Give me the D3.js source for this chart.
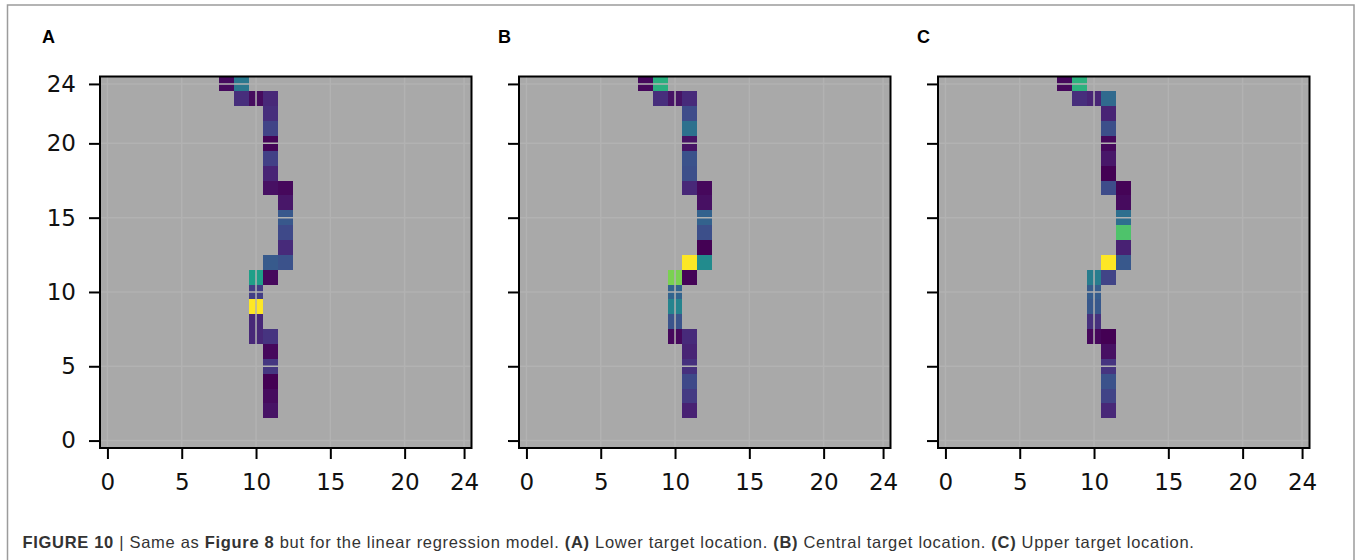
<!DOCTYPE html>
<html>
<head>
<meta charset="utf-8">
<script src="https://cdn.jsdelivr.net/npm/d3@7"></script>
<style>
  body { margin: 0; background: #ffffff; }
  svg { display: block; }
</style>
</head>
<body>
<div id="mainCanvas"></div>
<script>
// grid is 25 x 25, origin lower left; cells listed as [col, row, value 0..1]
var panelLabels = ["A", "B", "C"];
var xTicks = [0, 5, 10, 15, 20, 24];
var yTicks = [0, 5, 10, 15, 20, 24];

var cellsA = [
  [8,24,0.03],[9,24,0.40],
  [9,23,0.13],[10,23,0.03],[11,23,0.11],
  [11,22,0.13],[11,21,0.20],[11,20,0.01],[11,19,0.19],[11,18,0.10],
  [11,17,0.04],[12,17,0.02],
  [12,16,0.06],[12,15,0.27],[12,14,0.22],[12,13,0.12],
  [11,12,0.28],[12,12,0.25],
  [10,11,0.56],[11,11,0.02],
  [10,10,0.18],[10,9,1.00],[10,8,0.11],
  [10,7,0.11],[11,7,0.15],
  [11,6,0.02],[11,5,0.16],[11,4,0.00],[11,3,0.03],[11,2,0.05]
];
var cellsB = [
  [8,24,0.02],[9,24,0.63],
  [9,23,0.13],[10,23,0.05],[11,23,0.12],
  [11,22,0.23],[11,21,0.37],[11,20,0.05],[11,19,0.25],[11,18,0.24],
  [11,17,0.11],[12,17,0.02],
  [12,16,0.04],[12,15,0.31],[12,14,0.24],[12,13,0.00],
  [11,12,1.00],[12,12,0.48],
  [10,11,0.80],[11,11,0.01],
  [10,10,0.32],[10,9,0.45],[10,8,0.26],
  [10,7,0.02],[11,7,0.12],
  [11,6,0.10],[11,5,0.14],[11,4,0.22],[11,3,0.17],[11,2,0.09]
];
var cellsC = [
  [8,24,0.02],[9,24,0.64],
  [9,23,0.13],[10,23,0.10],[11,23,0.34],
  [11,22,0.10],[11,21,0.24],[11,20,0.02],[11,19,0.06],[11,18,0.00],
  [11,17,0.23],[12,17,0.01],
  [12,16,0.03],[12,15,0.36],[12,14,0.72],[12,13,0.09],
  [11,12,1.00],[12,12,0.27],
  [10,11,0.42],[11,11,0.20],
  [10,10,0.29],[10,9,0.27],[10,8,0.14],
  [10,7,0.02],[11,7,0.00],
  [11,6,0.04],[11,5,0.15],[11,4,0.25],[11,3,0.20],[11,2,0.11]
];
var panels = [cellsA, cellsB, cellsC];

var W = 1358, H = 560;
var panelLeft = [100, 519, 938];
var labelLeft = [42, 498, 917];
var panelW = 371.5;
var plotTop = 76.5, plotBottom = 448;

var svg = d3.select("#mainCanvas").append("svg")
        .attr("width", W)
        .attr("height", H);

// light frame around the figure (open at the bottom)
svg.append("path")
        .attr("d", "M7.5," + H + "V5H1354V" + H)
        .style("fill", "none")
        .style("stroke", "#9c9c9c")
        .style("stroke-width", 1.5);

var y = d3.scaleLinear().domain([-0.5, 24.5]).range([plotBottom, plotTop]);

function drawPanel(i){
    var left = panelLeft[i];
    var x = d3.scaleLinear().domain([-0.5, 24.5]).range([left, left + panelW]);
    var g = svg.append("g").attr("id", "panel-" + panelLabels[i]);

    g.append("rect")
        .attr("x", left)
        .attr("y", plotTop)
        .attr("width", panelW)
        .attr("height", plotBottom - plotTop)
        .style("fill", "#a9a9a9");

    var cw = x(0.5) - x(-0.5);
    var ch = y(-0.5) - y(0.5);
    g.selectAll("rect.cell")
        .data(panels[i])
        .enter().append("rect")
        .attr("class", "cell")
        .attr("x", function(d){ return x(d[0] - 0.5); })
        .attr("y", function(d){ return y(d[1] + 0.5); })
        .attr("width", cw)
        .attr("height", ch)
        .attr("shape-rendering", "crispEdges")
        .style("fill", function(d){ return d3.interpolateViridis(d[2]); });

    // grid on top of the image
    g.selectAll("line.vgrid")
        .data(xTicks)
        .enter().append("line")
        .attr("x1", function(d){ return x(d); })
        .attr("x2", function(d){ return x(d); })
        .attr("y1", plotTop)
        .attr("y2", plotBottom)
        .style("stroke", "#b2b2b2")
        .style("stroke-width", 1.5);
    g.selectAll("line.hgrid")
        .data(yTicks)
        .enter().append("line")
        .attr("x1", left)
        .attr("x2", left + panelW)
        .attr("y1", function(d){ return y(d); })
        .attr("y2", function(d){ return y(d); })
        .style("stroke", "#b2b2b2")
        .style("stroke-width", 1.5);

    var xAxis = g.append("g")
        .attr("transform", "translate(0," + plotBottom + ")")
        .call(d3.axisBottom(x).tickValues(xTicks).tickSize(11).tickPadding(15));
    var yAxis = g.append("g")
        .attr("transform", "translate(" + left + ",0)")
        .call(d3.axisLeft(y).tickValues(yTicks).tickSize(11).tickPadding(13));
    if (i > 0) yAxis.selectAll("text").remove();

    [xAxis, yAxis].forEach(function(a){
        a.select(".domain").remove();
        a.selectAll("line").style("stroke", "#000").style("stroke-width", 2);
        a.selectAll("text")
            .style("font-family", "'DejaVu Sans', sans-serif")
            .style("font-size", "23px")
            .style("fill", "#111");
    });

    g.append("rect")
        .attr("x", left)
        .attr("y", plotTop)
        .attr("width", panelW)
        .attr("height", plotBottom - plotTop)
        .style("fill", "none")
        .style("stroke", "#000")
        .style("stroke-width", 2);

    svg.append("text")
        .attr("x", labelLeft[i])
        .attr("y", 43)
        .text(panelLabels[i])
        .style("font-family", "'Liberation Sans', Arial, sans-serif")
        .style("font-weight", "bold")
        .style("font-size", "18px")
        .style("fill", "#000");
}

for (var k = 0; k < panels.length; k++) drawPanel(k);

// caption
var captionParts = [
  ["FIGURE 10", true], [" | ", false], ["Same as ", false], ["Figure 8", true],
  [" but for the linear regression model. ", false], ["(A)", true],
  [" Lower target location. ", false], ["(B)", true],
  [" Central target location. ", false], ["(C)", true],
  [" Upper target location.", false]
];
var caption = svg.append("text")
        .attr("x", 22.5)
        .attr("y", 548)
        .style("font-family", "'Liberation Sans', Arial, sans-serif")
        .style("font-size", "16.5px")
        .style("fill", "#333")
        .attr("xml:space", "preserve");
caption.selectAll("tspan")
        .data(captionParts)
        .enter().append("tspan")
        .text(function(d){ return d[0]; })
        .style("font-weight", function(d){ return d[1] ? "bold" : "normal"; })
        .style("white-space", "pre");

// stretch caption to the width it has in the figure
var capLen = caption.node().getComputedTextLength();
var nChars = captionParts.map(function(d){ return d[0]; }).join("").length;
caption.style("letter-spacing", ((1172 - capLen) / nChars) + "px");
</script>
</body>
</html>
